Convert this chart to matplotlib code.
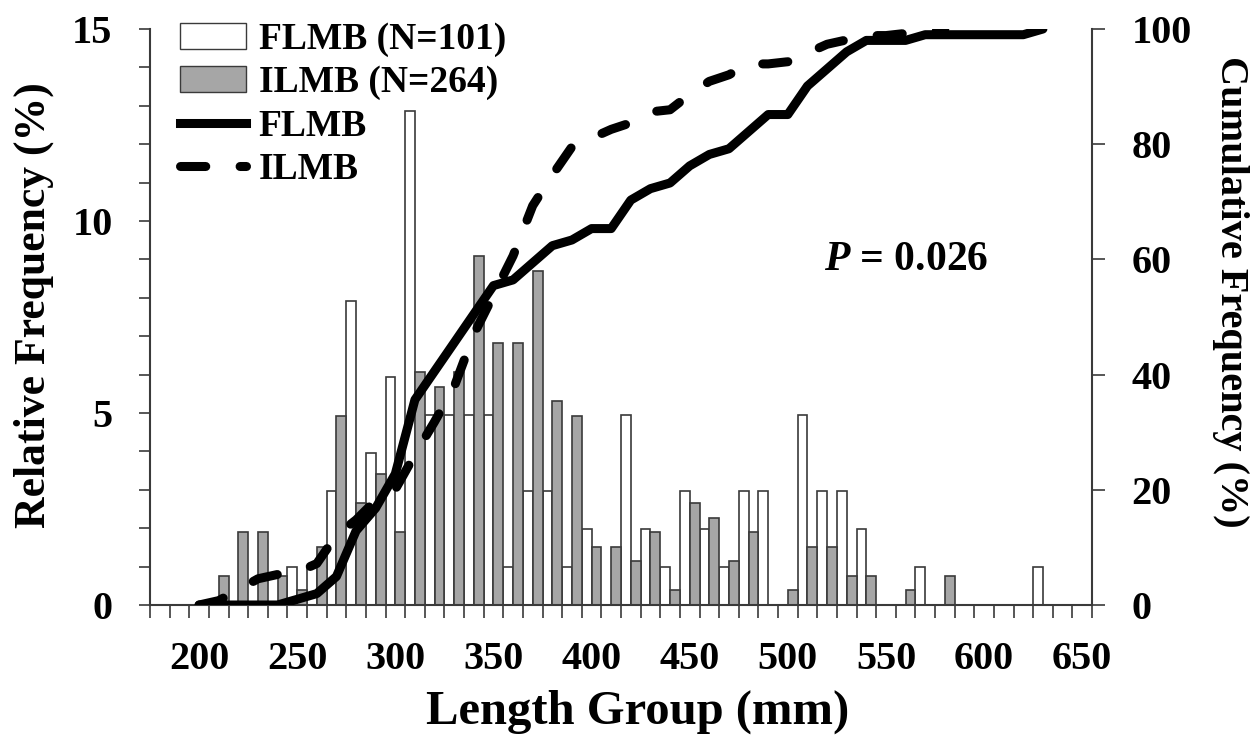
import numpy as np
import matplotlib.pyplot as plt
from matplotlib.patches import Patch
from matplotlib.lines import Line2D

plt.rcParams['font.family'] = 'Liberation Serif'
plt.rcParams['font.weight'] = 'bold'
plt.rcParams['mathtext.fontset'] = 'custom'
plt.rcParams['mathtext.it'] = 'Liberation Serif:italic:bold'
plt.rcParams['mathtext.rm'] = 'Liberation Serif:bold'

# Length groups (mm), 10 mm bins
length_groups = np.arange(180, 651, 10)

# Relative frequency (%) per length group
flmb_rel = [0, 0, 0, 0, 0, 0, 0, 0.99, 0.99, 2.97, 7.92, 3.96, 5.94, 12.87,
            4.95, 4.95, 4.95, 4.95, 0.99, 2.97, 2.97, 0.99, 1.98, 0, 4.95,
            1.98, 0.99, 2.97, 1.98, 0.99, 2.97, 2.97, 0, 4.95, 2.97, 2.97,
            1.98, 0, 0, 0.99, 0, 0, 0, 0, 0, 0.99, 0, 0]
ilmb_rel = [0, 0, 0, 0.76, 1.89, 1.89, 0.76, 0.38, 1.52, 4.92, 2.65, 3.41,
            1.89, 6.06, 5.68, 6.06, 9.09, 6.82, 6.82, 8.71, 5.30, 4.92, 1.52,
            1.52, 1.14, 1.89, 0.38, 2.65, 2.27, 1.14, 1.89, 0, 0.38, 1.52,
            1.52, 0.76, 0.76, 0, 0.38, 0, 0.76, 0, 0, 0, 0, 0, 0, 0]

# Cumulative frequency (%)
flmb_groups = np.arange(200, 631, 10)
flmb_cum = [0, 0, 0, 0, 0, 0.99, 1.98, 4.95, 12.87, 16.83, 22.77, 35.64,
            40.59, 45.54, 50.50, 55.45, 56.44, 59.41, 62.38, 63.37, 65.35,
            65.35, 70.30, 72.28, 73.27, 76.24, 78.22, 79.21, 82.18, 85.15,
            85.15, 90.10, 93.07, 96.04, 98.02, 98.02, 98.02, 99.01, 99.01,
            99.01, 99.01, 99.01, 99.01, 100]
ilmb_groups = np.arange(200, 581, 10)
ilmb_cum = [0, 0.76, 2.65, 4.55, 5.30, 5.68, 7.20, 12.12, 14.77, 18.18,
            20.08, 26.14, 31.82, 37.88, 46.97, 53.79, 60.61, 69.32, 74.62,
            79.55, 81.06, 82.58, 83.71, 85.61, 85.98, 88.64, 90.91, 92.05,
            93.94, 93.94, 94.32, 95.83, 97.35, 98.11, 98.86, 98.86, 99.24,
            99.24, 100]

tick_labels = [200, 250, 300, 350, 400, 450, 500, 550, 600, 650]

edge = '#3a3a3a'
gray = '#a6a6a6'
dash_style = dict(dashes=(2.8, 3.8), dash_capstyle='round')

fig = plt.figure(figsize=(12.5, 7.4), dpi=100)
ax = fig.add_axes([150 / 1250, 135 / 740, 942 / 1250, 576 / 740])
ax2 = ax.twinx()

ax.bar(length_groups - 5, flmb_rel, width=5, align='edge', color='white',
       edgecolor=edge, linewidth=1.2)
ax.bar(length_groups, ilmb_rel, width=5, align='edge', color=gray,
       edgecolor=edge, linewidth=1.2)

line_f, = ax2.plot(flmb_groups, flmb_cum, color='black', lw=6.5,
                   solid_joinstyle='round', solid_capstyle='round')
line_i, = ax2.plot(ilmb_groups, ilmb_cum, color='black', lw=6.5, **dash_style)

ax.set_xlim(175, 655)
ax.set_ylim(0, 15)
ax2.set_ylim(0, 100)

ax.set_xticks(tick_labels)
ax.set_xticklabels([str(t) for t in tick_labels])
ax.set_xticks(np.arange(175, 656, 10), minor=True)
ax.tick_params(axis='x', which='major', length=0, pad=26, labelsize=29)
ax.tick_params(axis='x', which='minor', length=9.5, width=1.2, color=edge)

ax.set_yticks([0, 5, 10, 15])
ax.set_yticks(range(16), minor=True)
ax.tick_params(axis='y', which='both', length=8, width=1.2, color=edge,
               pad=19, labelsize=29)

ax2.set_yticks(range(0, 101, 20))
ax2.tick_params(axis='y', length=9.5, width=1.2, color=edge, pad=19,
                labelsize=29)

for a in (ax, ax2):
    a.spines['top'].set_visible(False)
    for s in a.spines.values():
        s.set_color(edge)
        s.set_linewidth(1.5)
ax.spines['right'].set_visible(False)
ax2.spines['left'].set_visible(False)
ax2.spines['bottom'].set_visible(False)

fig.text(34 / 1250, 1 - 305 / 740, 'Relative Frequency (%)', rotation=90,
         ha='center', va='center', size=31.5)
fig.text(1230 / 1250, 1 - 292 / 740, 'Cumulative Frequency (%)', rotation=-90,
         ha='center', va='center', size=29)
fig.text(638 / 1250, 1 - 712 / 740, 'Length Group (mm)', ha='center',
         va='center', size=35)
fig.text(824 / 1250, 1 - 260 / 740, r'$P$ = 0.026', ha='left', va='center',
         size=30)

handles = [Patch(facecolor='white', edgecolor=edge),
           Patch(facecolor=gray, edgecolor=edge),
           Line2D([], [], color='black', lw=6.5),
           Line2D([], [], color='black', lw=6.5, **dash_style)]
labels = ['FLMB (N=101)', 'ILMB (N=264)', 'FLMB', 'ILMB']
fig.legend(handles, labels, loc='upper left',
           bbox_to_anchor=(180 / 1250, 1 - 22 / 740), frameon=False,
           fontsize=27, handlelength=1.75, handletextpad=0.35,
           labelspacing=0.22, borderpad=0, borderaxespad=0)

fig.savefig('out.png', dpi=100)
